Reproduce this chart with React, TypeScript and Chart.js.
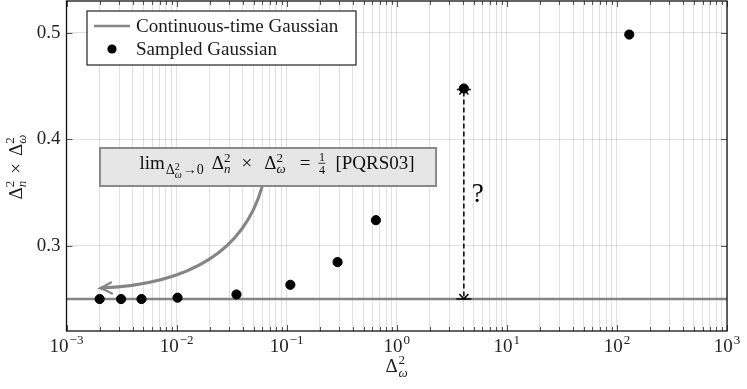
import React, { useEffect, useRef } from "react";
import { Chart, registerables } from "chart.js";

Chart.register(...registerables);

// ---- data ----
const sampledX = [0.002, 0.00313, 0.0048, 0.0102, 0.035, 0.108, 0.29, 0.647, 4.07, 129.5];
const sampledY = [0.25, 0.25, 0.25, 0.2513, 0.2543, 0.2634, 0.2847, 0.3241, 0.4478, 0.4985];
const continuousX = [1e-3, 1e3];
const continuousY = [0.25, 0.25];
const yTicks = [0.3, 0.4, 0.5];
const xDecades = [-3, -2, -1, 0, 1, 2, 3];
const gapIndex = 8;
const limitValue = 0.25;
const legendLabels = ["Continuous-time Gaussian", "Sampled Gaussian"];

const FONT = "'Liberation Serif', 'Times New Roman', serif";
const GRID = "rgba(0,0,0,0.12)";
const LINE_GRAY = "#858585";

function f(size: number, italic = false) {
  return `${italic ? "italic " : ""}${size}px ${FONT}`;
}

type Piece =
  | { t: string; s: number; dy?: number; it?: boolean; gap?: number }
  | { stack: [string, string]; s: number; up: number; down: number; it2?: boolean; gap?: number }
  | { frac: [string, string]; s: number; gap?: number };

function runPieces(ctx: CanvasRenderingContext2D, pieces: Piece[], x0: number, base: number, draw: boolean) {
  let x = x0;
  for (const p of pieces) {
    x += p.gap || 0;
    if ("t" in p) {
      ctx.font = f(p.s, p.it);
      if (draw) ctx.fillText(p.t, x, base + (p.dy || 0));
      x += ctx.measureText(p.t).width;
    } else if ("stack" in p) {
      ctx.font = f(p.s);
      const w1 = ctx.measureText(p.stack[0]).width;
      if (draw) ctx.fillText(p.stack[0], x, base - p.up);
      ctx.font = f(p.s, p.it2 !== false);
      const w2 = ctx.measureText(p.stack[1]).width;
      if (draw) ctx.fillText(p.stack[1], x, base + p.down);
      x += Math.max(w1, w2);
    } else {
      ctx.font = f(p.s);
      const w = Math.max(ctx.measureText(p.frac[0]).width, ctx.measureText(p.frac[1]).width) + 1;
      if (draw) {
        ctx.textAlign = "center";
        ctx.fillText(p.frac[0], x + w / 2, base - 8);
        ctx.fillText(p.frac[1], x + w / 2, base + 5);
        ctx.textAlign = "left";
        ctx.fillRect(x, base - 6.2, w, 0.8);
      }
      x += w;
    }
  }
  return x - x0;
}

const overlayPlugin = {
  id: "overlay",
  afterDatasetsDraw(chart: any) {
    const ctx: CanvasRenderingContext2D = chart.ctx;
    const xs = chart.scales.x;
    const ys = chart.scales.y;
    const a = chart.chartArea;
    ctx.save();

    // inward ticks
    ctx.strokeStyle = "#555";
    ctx.lineWidth = 1;
    for (const t of xs.ticks) {
      const px = Math.round(xs.getPixelForValue(t.value)) + 0.5;
      const lg = Math.log10(t.value);
      const len = Math.abs(lg - Math.round(lg)) < 1e-9 ? 6 : 4;
      ctx.beginPath();
      ctx.moveTo(px, a.bottom);
      ctx.lineTo(px, a.bottom - len);
      ctx.moveTo(px, a.top);
      ctx.lineTo(px, a.top + len);
      ctx.stroke();
    }
    for (const v of yTicks) {
      const py = Math.round(ys.getPixelForValue(v)) + 0.5;
      ctx.beginPath();
      ctx.moveTo(a.left, py);
      ctx.lineTo(a.left + 6, py);
      ctx.moveTo(a.right, py);
      ctx.lineTo(a.right - 6, py);
      ctx.stroke();
    }

    // frame
    ctx.strokeStyle = "#111";
    ctx.lineWidth = 1.3;
    ctx.strokeRect(a.left, a.top, a.right - a.left, a.bottom - a.top);

    // dashed double arrow
    const gx = xs.getPixelForValue(sampledX[gapIndex]);
    const gTop = ys.getPixelForValue(sampledY[gapIndex]) + 1;
    const gBot = ys.getPixelForValue(limitValue);
    ctx.strokeStyle = "#000";
    ctx.lineWidth = 1.5;
    ctx.setLineDash([5, 3]);
    ctx.beginPath();
    ctx.moveTo(gx, gTop + 2);
    ctx.lineTo(gx, gBot - 2);
    ctx.stroke();
    ctx.setLineDash([]);
    ctx.beginPath();
    ctx.moveTo(gx - 7, gTop);
    ctx.lineTo(gx + 7, gTop);
    ctx.moveTo(gx - 4.5, gTop + 5);
    ctx.lineTo(gx, gTop);
    ctx.lineTo(gx + 4.5, gTop + 5);
    ctx.moveTo(gx - 7.5, gBot);
    ctx.lineTo(gx + 7.5, gBot);
    ctx.moveTo(gx - 4.5, gBot - 5);
    ctx.lineTo(gx, gBot);
    ctx.lineTo(gx + 4.5, gBot - 5);
    ctx.stroke();
    ctx.fillStyle = "#000";
    ctx.font = f(27);
    ctx.textBaseline = "middle";
    ctx.textAlign = "left";
    ctx.fillText("?", gx + 8, (gTop + gBot) / 2 + 1);
    ctx.textBaseline = "alphabetic";

    // annotation box
    ctx.fillStyle = "#e6e6e6";
    ctx.fillRect(100, 148, 336, 38);
    ctx.strokeStyle = "#8a8a8a";
    ctx.lineWidth = 2;
    ctx.strokeRect(100, 148, 336, 38);
    ctx.fillStyle = "#111";
    const pieces: Piece[] = [
      { t: "lim", s: 19 },
      { t: "Δ", s: 14, dy: 5, gap: 1 },
      { stack: ["2", "ω"], s: 10, up: -1, down: 9 },
      { t: "→", s: 14, dy: 5, gap: 1 },
      { t: "0", s: 14, dy: 5 },
      { t: "Δ", s: 19, gap: 8 },
      { stack: ["2", "n"], s: 13, up: 7, down: 4 },
      { t: "×", s: 19, gap: 11 },
      { t: "Δ", s: 19, gap: 12 },
      { stack: ["2", "ω"], s: 13, up: 7, down: 4 },
      { t: "=", s: 19, gap: 14 },
      { frac: ["1", "4"], s: 12, gap: 8 },
      { t: "[PQRS03]", s: 19, gap: 10 },
    ];
    ctx.textAlign = "left";
    const w = runPieces(ctx, pieces, 0, 0, false);
    runPieces(ctx, pieces, 277 - w / 2, 169, true);

    // curved arrow
    ctx.strokeStyle = LINE_GRAY;
    ctx.lineWidth = 3;
    ctx.lineCap = "round";
    ctx.beginPath();
    ctx.moveTo(262, 187);
    ctx.quadraticCurveTo(235, 282, 102, 288);
    ctx.stroke();
    ctx.lineWidth = 2.2;
    ctx.beginPath();
    ctx.moveTo(111, 282.5);
    ctx.quadraticCurveTo(105, 286, 100, 288.3);
    ctx.quadraticCurveTo(106, 290, 112, 293.5);
    ctx.stroke();
    ctx.lineCap = "butt";

    // legend
    ctx.fillStyle = "#fff";
    ctx.fillRect(87, 11, 269, 54);
    ctx.strokeStyle = "#222";
    ctx.lineWidth = 1.2;
    ctx.strokeRect(87, 11, 269, 54);
    ctx.strokeStyle = LINE_GRAY;
    ctx.lineWidth = 2.5;
    ctx.beginPath();
    ctx.moveTo(94, 26);
    ctx.lineTo(130, 26);
    ctx.stroke();
    ctx.fillStyle = "#000";
    ctx.beginPath();
    ctx.arc(112, 49, 4.6, 0, Math.PI * 2);
    ctx.fill();
    ctx.fillStyle = "#1a1a1a";
    ctx.font = f(19);
    ctx.fillText(legendLabels[0], 136, 32);
    ctx.fillText(legendLabels[1], 136, 55);

    // x tick labels
    ctx.fillStyle = "#222";
    for (const d of xDecades) {
      const px = xs.getPixelForValue(Math.pow(10, d));
      const exp = d < 0 ? "\u2212" + Math.abs(d) : String(d);
      ctx.font = f(19);
      const w1 = ctx.measureText("10").width;
      ctx.font = f(13);
      const w2 = ctx.measureText(exp).width;
      const x0 = px - (w1 + w2 + 1) / 2;
      ctx.font = f(19);
      ctx.fillText("10", x0, 352);
      ctx.font = f(13);
      ctx.fillText(exp, x0 + w1 + 1, 344);
    }

    // x axis title
    {
      ctx.font = f(19);
      const wd = ctx.measureText("Δ").width;
      ctx.font = f(13);
      const ws = ctx.measureText("2").width;
      const cx = (a.left + a.right) / 2 - 2;
      const x0 = cx - (wd + ws) / 2;
      ctx.font = f(19);
      ctx.fillText("Δ", x0, 372);
      ctx.font = f(13);
      ctx.fillText("2", x0 + wd + 1, 364);
      ctx.font = f(13, true);
      ctx.fillText("ω", x0 + wd + 1, 377);
    }

    // y axis title (rotated)
    {
      ctx.translate(22, 167);
      ctx.rotate(-Math.PI / 2);
      const yp: Piece[] = [
        { t: "Δ", s: 19 },
        { stack: ["2", "n"], s: 13, up: 8, down: 4 },
        { t: "×", s: 19, gap: 7 },
        { t: "Δ", s: 19, gap: 7 },
        { stack: ["2", "ω"], s: 13, up: 8, down: 4 },
      ];
      const yw = runPieces(ctx, yp, 0, 0, false);
      runPieces(ctx, yp, -yw / 2, 0, true);
    }
    ctx.restore();
  },
};

export default function App() {
  const ref = useRef<HTMLCanvasElement | null>(null);
  useEffect(() => {
    document.body.style.margin = "0";
    const canvas = ref.current!;
    const allXTicks: number[] = [];
    for (let k = -3; k < 3; k++) {
      for (let m = 1; m <= 9; m++) allXTicks.push(m * Math.pow(10, k));
    }
    allXTicks.push(1000);
    const chart = new Chart(canvas, {
      type: "scatter",
      data: {
        datasets: [
          {
            label: legendLabels[1],
            data: sampledX.map((x, i) => ({ x, y: sampledY[i] })),
            backgroundColor: "#000",
            borderColor: "#000",
            pointRadius: 4.6,
            pointHoverRadius: 4.6,
            showLine: false,
            order: 0,
          },
          {
            label: legendLabels[0],
            data: continuousX.map((x, i) => ({ x, y: continuousY[i] })),
            borderColor: LINE_GRAY,
            backgroundColor: LINE_GRAY,
            borderWidth: 2.6,
            pointRadius: 0,
            showLine: true,
            order: 1,
          } as any,
        ],
      },
      options: {
        responsive: false,
        animation: false,
        events: [],
        layout: { autoPadding: false, padding: { top: 1, right: 20, left: 0, bottom: 0 } },
        plugins: { legend: { display: false }, tooltip: { enabled: false } },
        scales: {
          x: {
            type: "logarithmic",
            min: 1e-3,
            max: 1e3,
            afterBuildTicks: (scale: any) => {
              scale.ticks = allXTicks.map((v) => ({ value: v }));
            },
            afterFit: (scale: any) => {
              scale.height = 58;
              scale.paddingLeft = 0;
              scale.paddingRight = 0;
              scale.paddingTop = 0;
              scale.paddingBottom = 0;
            },
            ticks: { display: false, autoSkip: false },
            grid: { color: GRID, lineWidth: 1, drawTicks: false },
            border: { display: false },
          },
          y: {
            type: "linear",
            min: 0.22,
            max: 0.53,
            afterBuildTicks: (scale: any) => {
              scale.ticks = yTicks.map((v) => ({ value: v }));
            },
            afterFit: (scale: any) => {
              scale.width = 66.5;
              scale.paddingTop = 0;
              scale.paddingBottom = 0;
              scale.paddingLeft = 0;
              scale.paddingRight = 0;
            },
            ticks: {
              color: "#222",
              font: { family: FONT, size: 19 },
              padding: 6,
              callback: (v: any) => Number(v).toFixed(1),
            },
            grid: { color: GRID, lineWidth: 1, drawTicks: false },
            border: { display: false },
          },
        },
      },
      plugins: [overlayPlugin],
    } as any);
    return () => chart.destroy();
  }, []);
  return (
    <div style={{ width: 747, height: 389 }}>
      <canvas ref={ref} width={747} height={389} />
    </div>
  );
}
